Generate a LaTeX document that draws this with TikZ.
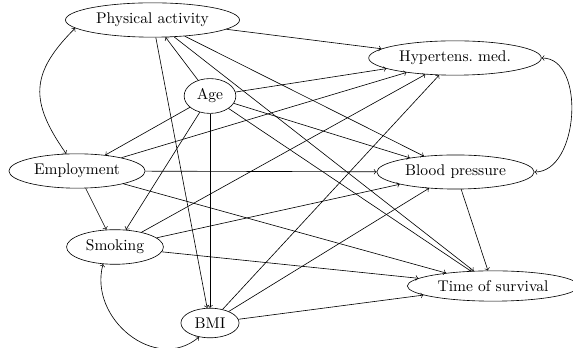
\documentclass[tikz,border=0pt]{standalone}
\usetikzlibrary{shapes.geometric}
\begin{document}
\begin{tikzpicture}[x=0.645pt,y=0.645pt,
  var/.style={draw,ellipse,font=\normalsize},
  edge/.style={->},
  dedge/.style={<->}]
\useasboundingbox (0,0) rectangle (573,348);
\node[var] (pa)  at (152.5,328) {Physical activity};
\node[var] (age) at (210,252) {Age};
\node[var] (hyp) at (455,290) {Hypertens.\ med.};
\node[var] (emp) at (77,177) {Employment};
\node[var] (bp)  at (455.5,176) {Blood pressure};
\node[var] (smk) at (115,101) {Smoking};
\node[var] (bmi) at (210,25) {BMI};
\node[var] (tos) at (493,62) {Time of survival};
% Age
\draw[edge] (age) -- (pa);
\draw[edge] (age) -- (hyp);
\draw[edge] (age) -- (bp);
\draw[edge] (age) -- (tos);
\draw[edge] (age) -- (emp);
\draw[edge] (age) -- (smk);
\draw[edge] (age) -- (bmi);
% Physical activity
\draw[edge] (pa) -- (hyp);
\draw[edge] (pa) -- (bp);
\draw[edge] (pa) -- (tos);
\draw[edge] (pa) -- (bmi);
% Employment
\draw[edge] (emp) -- (hyp);
\draw[edge] (emp) -- (bp);
\draw[edge] (emp) -- (tos);
\draw[edge] (emp) -- (smk);
% Smoking
\draw[edge] (smk) -- (hyp);
\draw[edge] (smk) -- (bp);
\draw[edge] (smk) -- (tos);
% BMI
\draw[edge] (bmi) -- (hyp);
\draw[edge] (bmi) -- (bp);
\draw[edge] (bmi) -- (tos);
% BP
\draw[edge] (bp) -- (tos);
% correlations
\draw[dedge] (pa.186) to[out=225,in=125,looseness=1.3] (emp.122);
\draw[dedge] (hyp.east) to[out=0,in=0,looseness=1.0] (bp.east);
\draw[dedge] (smk.235) to[out=255,in=220,looseness=1.2] (bmi.232);
\end{tikzpicture}
\end{document}
